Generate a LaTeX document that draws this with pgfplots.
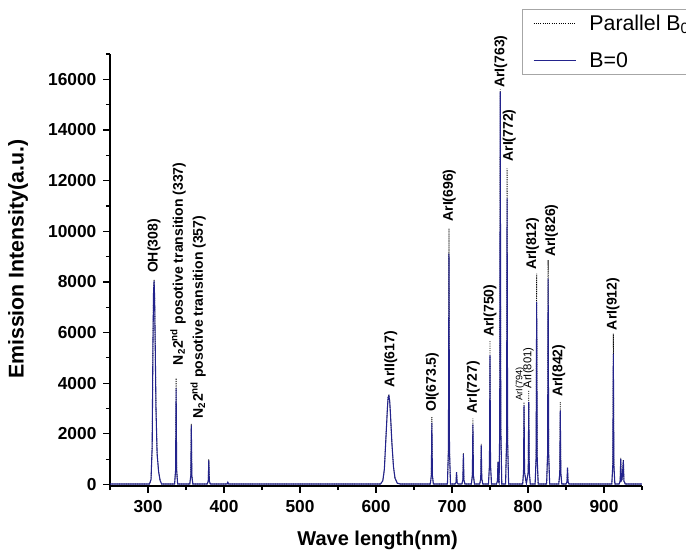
\documentclass[border=0pt]{standalone}
\usepackage{fontspec}
\setmainfont{Liberation Sans}
\usepackage{pgfplots}
\pgfplotsset{compat=1.18}
\definecolor{bzero}{RGB}{35,35,140}
\begin{document}
\begin{tikzpicture}
\begin{axis}[name=ax,
  scale only axis, width=399pt, height=324pt,
  xmin=250, xmax=950, ymin=-60, ymax=17000,
  axis x line*=bottom, axis y line*=left,
  axis line style={-, line width=0.9pt, black},
  tick align=outside, major tick length=5pt, minor tick length=3pt,
  every tick/.style={black, line width=0.9pt},
  xtick={300,400,...,900}, minor xtick={250,350,...,950},
  ytick={0,2000,...,16000}, minor ytick={1000,3000,...,17000},
  scaled y ticks=false, scaled x ticks=false,
  xticklabels={}, yticklabels={},
  every axis y label/.style={at={(axis description cs:-0.1729,0.525)},rotate=90,anchor=center},
  every axis x label/.style={at={(axis description cs:0.503,-0.127)},anchor=center},
  xlabel={\fontsize{15}{17}\selectfont\bfseries Wave length(nm)},
  ylabel={\fontsize{16}{18}\selectfont\bfseries Emission Intensity(a.u.)},
  legend style={at={(0.7744,1.1035)}, anchor=north west, draw=gray!70, line width=0.6pt,
    font=\fontsize{16}{18}\selectfont, inner xsep=8pt, inner ysep=3pt, row sep=13pt,
    nodes={inner sep=1pt}},
  legend cell align=left,
  legend image code/.code={\draw[#1] (0pt,0pt) -- (31.5pt,0pt);},
  /tikz/every odd column/.append style={column sep=9pt},
  clip=false,
]
\addplot[black, line width=0.6pt, dash pattern=on 0.7pt off 1pt] table {
x y
250 20
302 20
304 200
305.5 1500
306.5 5500
307.3 7600
308 8100
308.7 7400
309.5 5500
310.5 3000
312 1200
314 500
316 150
318 20
335 20
336.3 570
337 4200
337.7 570
339 20
355 20
356.3 350
357 2400
357.7 350
359 20
378 20
379.3 140
380 1000
380.7 140
382 20
404 20
405 90
406 20
606 20
609 150
611 600
613 1800
615 3000
616 3450
617 3550
618 3300
619 2800
621 1600
623 700
625 250
628 50
632 20
671.5 20
672.8 360
673.5 2660
674.2 360
675.5 20
694 20
695.3 1370
696 10110
696.7 1370
698 20
704 20
705.3 75
706 500
706.7 75
708 20
713 20
714.3 180
715 1250
715.7 180
717 20
725.5 20
726.8 355
727.5 2600
728.2 355
729.5 20
736.5 20
737.8 230
738.5 1600
739.2 230
740.5 20
748 20
749.3 765
750 5690
750.7 765
752 20
758.5 20
759.8 130
760.5 900
761.2 130
762 60
762.8 2330
763.5 15600
764.2 2330
765.5 20
770.5 20
771.8 1700
772.5 12480
773.2 1700
774.5 20
793 20
794.1 470
794.8 3250
795.5 470
797.9 40
800.3 490
801 3720
801.7 490
803 20
809.4 20
810.7 1080
811.4 8330
812.1 1080
813.4 20
824.5 20
825.8 1220
826.5 8860
827.2 1220
828.5 20
840.5 20
841.8 440
842.5 3250
843.2 440
844.5 20
850 20
851.3 100
852 680
852.7 100
854 20
910.3 20
911.6 775
912.3 5960
913 775
914.3 20
920 20
921.3 150
922 1050
922.7 150
923.8 200
925.5 980
926.2 140
928 20
950 20
};
\addlegendentry{Parallel B\textsubscript{0}}
\addplot[bzero, line width=0.8pt] table {
x y
250 20
302 20
304 200
305.5 1500
306.5 5500
307.3 7600
308 8040
308.7 7400
309.5 5500
310.5 3000
312 1200
314 500
316 150
318 20
335 20
336.3 570
337 3800
337.7 570
339 20
355 20
356.3 350
357 2330
357.7 350
359 20
378 20
379.3 140
380 950
380.7 140
382 20
404 20
405 90
406 20
606 20
609 150
611 600
613 1800
615 3000
616 3450
617 3500
618 3300
619 2800
621 1600
623 700
625 250
628 50
632 20
671.5 20
672.8 360
673.5 2430
674.2 360
675.5 20
694 20
695.3 1370
696 9120
696.7 1370
698 20
704 20
705.3 75
706 490
706.7 75
708 20
713 20
714.3 180
715 1210
715.7 180
717 20
725.5 20
726.8 355
727.5 2370
728.2 355
729.5 20
736.5 20
737.8 230
738.5 1540
739.2 230
740.5 20
748 20
749.3 765
750 5100
750.7 765
752 20
758.5 20
759.8 130
760.5 880
761.2 130
762 60
762.8 2330
763.5 15510
764.2 2330
765.5 20
770.5 20
771.8 1700
772.5 11300
773.2 1700
774.5 20
793 20
794.1 470
794.8 3120
795.5 470
797.9 40
800.3 490
801 3250
801.7 490
803 20
809.4 20
810.7 1080
811.4 7210
812.1 1080
813.4 20
824.5 20
825.8 1220
826.5 8130
827.2 1220
828.5 20
840.5 20
841.8 440
842.5 2930
843.2 440
844.5 20
850 20
851.3 100
852 660
852.7 100
854 20
910.3 20
911.6 775
912.3 5170
913 775
914.3 20
920 20
921.3 150
922 1010
922.7 150
923.8 200
925.5 950
926.2 140
928 20
950 20
};
\addlegendentry{B=0}
\pgfplotsinvokeforeach{0,2000,4000,6000,8000,10000,12000,14000,16000}{
  \node[anchor=east, inner sep=0pt, xshift=-10pt, font=\fontsize{13}{15}\selectfont\bfseries] at (axis cs:250,#1) {#1};
}
\pgfplotsinvokeforeach{300,400,500,600,700,800,900}{
  \node[anchor=north, inner sep=0pt, yshift=-10.5pt, font=\fontsize{13}{15}\selectfont\bfseries] at (axis cs:#1,-60) {#1};
}
\begin{scope}[every node/.style={rotate=90, anchor=west, inner sep=0pt, font=\fontsize{10.5}{12}\selectfont\bfseries}]
\node at (axis cs:308,8343) {OH(308)};
\node at (axis cs:339.5,4705) {N\textsubscript{2}2\textsuperscript{nd} posotive transition (337)};
\node at (axis cs:366,2610) {N\textsubscript{2}2\textsuperscript{nd} posotive transition (357)};
\node at (axis cs:619.5,3836) {ArII(617)};
\node at (axis cs:674,2860) {OI(673.5)};
\node at (axis cs:696.5,10373) {ArI(696)};
\node at (axis cs:728,2795) {ArI(727)};
\node at (axis cs:750,5826) {ArI(750)};
\node at (axis cs:764,15660) {ArI(763)};
\node at (axis cs:775.5,12745) {ArI(772)};
\node[font=\fontsize{7}{8}\selectfont] at (axis cs:789.5,3296) {ArI(794)};
\node[font=\fontsize{8.5}{9}\selectfont] at (axis cs:800.5,3784) {ArI(801)};
\node at (axis cs:806,8462) {ArI(812)};
\node at (axis cs:831,8988) {ArI(826)};
\node at (axis cs:840.5,3452) {ArI(842)};
\node at (axis cs:912,6090) {ArI(912)};
\end{scope}
\end{axis}
\pgfresetboundingbox
\path ([shift={(-82.5pt,-51pt)}]ax.south west) rectangle ++(514.5pt,415.5pt);
\end{tikzpicture}
\end{document}
